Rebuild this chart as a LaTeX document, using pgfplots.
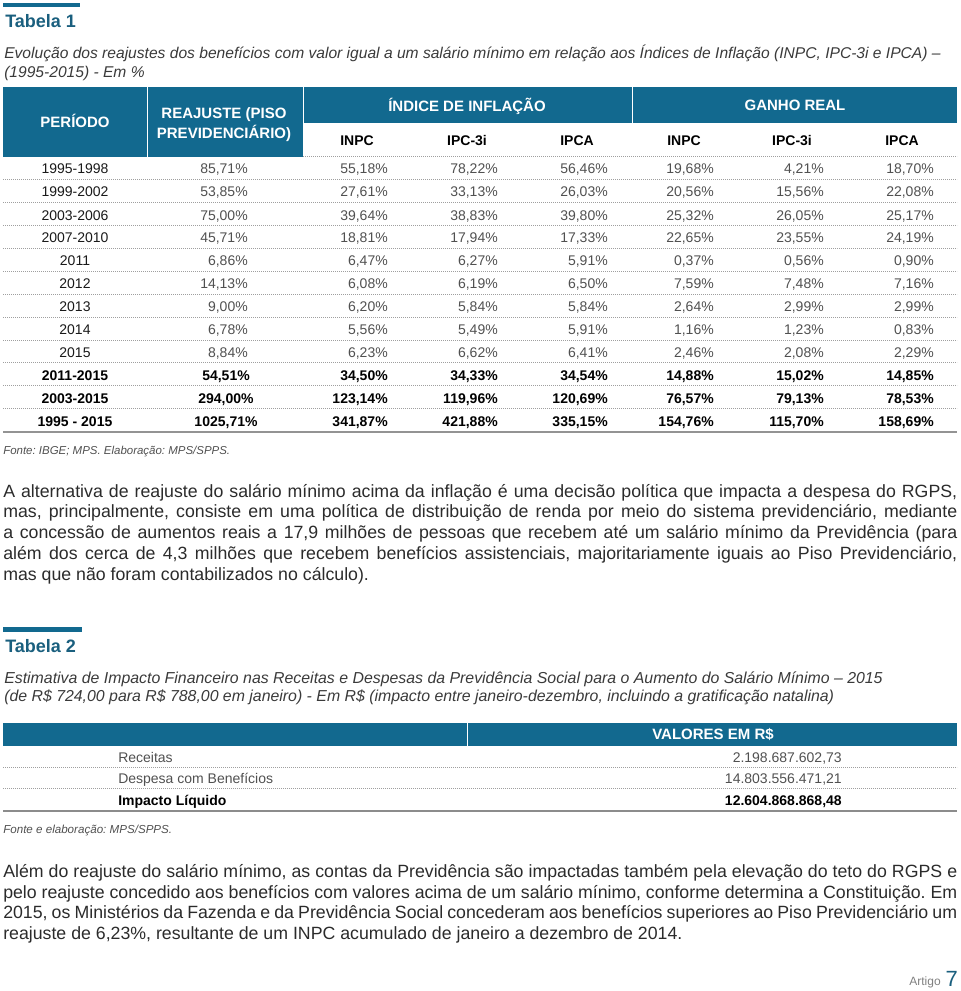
\documentclass[border=0pt]{standalone}
\usepackage{pgfplots}
\pgfplotsset{compat=1.18}
\usepackage{pgfplotstable}
\usepackage{fontspec}
\setmainfont{Liberation Sans}
\frenchspacing

\definecolor{hdr}{HTML}{12698F}
\definecolor{tealt}{HTML}{1A5F7E}
\definecolor{bodyc}{HTML}{2B2B2B}
\definecolor{valc}{HTML}{505050}
\definecolor{capc}{HTML}{3A3A3A}

% 1 px of the reference = 0.75pt
\pgfplotstableread{
y   per        reaj   inpc   ipc    ipca   ginpc  gipc   gipca
174 1995-1998  85,71  55,18  78,22  56,46  19,68  4,21   18,70
197 1999-2002  53,85  27,61  33,13  26,03  20,56  15,56  22,08
220 2003-2006  75,00  39,64  38,83  39,80  25,32  26,05  25,17
243 2007-2010  45,71  18,81  17,94  17,33  22,65  23,55  24,19
265 2011       6,86   6,47   6,27   5,91   0,37   0,56   0,90
288 2012       14,13  6,08   6,19   6,50   7,59   7,48   7,16
311 2013       9,00   6,20   5,84   5,84   2,64   2,99   2,99
334 2014       6,78   5,56   5,49   5,91   1,16   1,23   0,83
357 2015       8,84   6,23   6,62   6,41   2,46   2,08   2,29
}\tabA

\pgfplotstableread{
y   per            reaj     inpc    ipc     ipca    ginpc   gipc    gipca
380 2011-2015      54,51    34,50   34,33   34,54   14,88   15,02   14,85
403 2003-2015      294,00   123,14  119,96  120,69  76,57   79,13   78,53
426 {1995 - 2015}  1025,71  341,87  421,88  335,15  154,76  115,70  158,69
}\tabB

\pgfplotstableread{
y   item                      valor
762 Receitas                  2.198.687.602,73
783 {Despesa com Benefícios}  14.803.556.471,21
}\tabC

\pgfplotstableread{
y   item                  valor
805 {Impacto Líquido}     12.604.868.868,48
}\tabD

\pgfplotsset{
  txt/.style={draw=none, mark=none, nodes near coords={\pgfplotspointmeta},
    point meta=explicit symbolic},
  cell/.style={txt, nodes near coords={\pgfplotspointmeta\%},
    nodes near coords style={anchor=base east, inner sep=0pt,
      font=\fontsize{10.5}{12}\selectfont, text=valc}},
  cellb/.style={cell, nodes near coords style={font=\fontsize{10.5}{12}\selectfont\bfseries, text=black}},
  lab/.style={txt, nodes near coords style={anchor=base, inner sep=0pt,
      font=\fontsize{10.5}{12}\selectfont, text=black!90}},
  labb/.style={lab, nodes near coords style={font=\fontsize{10.5}{12}\selectfont\bfseries, text=black}},
  dotl/.style={gray!75, line width=0.7pt, dash pattern=on 0.6pt off 0.9pt, unbounded coords=jump},
  box/.style={fill=hdr, draw=none, mark=none},
}

\begin{document}
\begin{tikzpicture}
\begin{axis}[
  width=720pt, height=743.25pt, scale only axis,
  xmin=0, xmax=960, ymin=0, ymax=991, y dir=reverse,
  hide axis, clip=false,
]
\addplot[draw=none, mark=none] coordinates {(0,0) (960,991)};

% ---------- Tabela 1 ----------
\addplot[box] coordinates {(3,3) (80,3) (80,7.5) (3,7.5)};
\node[anchor=base west, inner sep=0pt, font=\fontsize{13.5}{16}\selectfont\bfseries, text=tealt]
  at (axis cs:5,28) {Tabela 1};
\node[anchor=base west, inner sep=0pt, font=\fontsize{11.7}{13}\selectfont\itshape, text=capc]
  at (axis cs:4,59) {Evolução dos reajustes dos benefícios com valor igual a um salário mínimo em relação aos Índices de Inflação (INPC, IPC-3i e IPCA) –};
\node[anchor=base west, inner sep=0pt, font=\fontsize{11.7}{13}\selectfont\itshape, text=capc]
  at (axis cs:4,78) {(1995-2015) - Em \%};

\addplot[box] coordinates {(3,87) (146.5,87) (146.5,157) (3,157)};
\addplot[box] coordinates {(147.5,87) (302.5,87) (302.5,157) (147.5,157)};
\addplot[box] coordinates {(303.5,87) (632,87) (632,123) (303.5,123)};
\addplot[box] coordinates {(633,87) (957,87) (957,123) (633,123)};

\begin{scope}[every node/.style={inner sep=0pt, font=\fontsize{11.25}{13}\selectfont\bfseries, text=white}]
\node[anchor=base] at (axis cs:75,128) {PERÍODO};
\node[anchor=base] at (axis cs:224,118.5) {REAJUSTE (PISO};
\node[anchor=base] at (axis cs:224,139) {PREVIDENCIÁRIO)};
\node[anchor=base] at (axis cs:467,111.5) {ÍNDICE DE INFLAÇÃO};
\node[anchor=base] at (axis cs:795,111) {GANHO REAL};
\end{scope}
\begin{scope}[every node/.style={inner sep=0pt, font=\fontsize{10.5}{12}\selectfont\bfseries, text=black}]
\node[anchor=base] at (axis cs:357,146) {INPC};
\node[anchor=base] at (axis cs:467,146) {IPC-3i};
\node[anchor=base] at (axis cs:577,146) {IPCA};
\node[anchor=base] at (axis cs:684,146) {INPC};
\node[anchor=base] at (axis cs:792,146) {IPC-3i};
\node[anchor=base] at (axis cs:902,146) {IPCA};
\end{scope}

\addplot[dotl] coordinates {(303,156) (957,156) (0,nan)
  (3,179) (957,179) (0,nan) (3,202) (957,202) (0,nan)
  (3,225) (957,225) (0,nan) (3,248) (957,248) (0,nan)
  (3,271) (957,271) (0,nan) (3,294) (957,294) (0,nan)
  (3,317) (957,317) (0,nan) (3,340) (957,340) (0,nan)
  (3,362) (957,362) (0,nan) (3,385) (957,385) (0,nan)
  (3,408) (957,408)};
\addplot[gray!85, line width=1.5pt] coordinates {(3,432) (957,432)};

\addplot[lab]  table[x expr=75,  y=y, meta=per]   {\tabA};
\addplot[cell] table[x expr=248, y=y, meta=reaj]  {\tabA};
\addplot[cell] table[x expr=388, y=y, meta=inpc]  {\tabA};
\addplot[cell] table[x expr=498, y=y, meta=ipc]   {\tabA};
\addplot[cell] table[x expr=608, y=y, meta=ipca]  {\tabA};
\addplot[cell] table[x expr=714, y=y, meta=ginpc] {\tabA};
\addplot[cell] table[x expr=824, y=y, meta=gipc]  {\tabA};
\addplot[cell] table[x expr=934, y=y, meta=gipca] {\tabA};

\addplot[labb]  table[x expr=75,  y=y, meta=per]   {\tabB};
\addplot[cellb, nodes near coords style={anchor=base}] table[x expr=226, y=y, meta=reaj] {\tabB};
\addplot[cellb] table[x expr=388, y=y, meta=inpc]  {\tabB};
\addplot[cellb] table[x expr=498, y=y, meta=ipc]   {\tabB};
\addplot[cellb] table[x expr=608, y=y, meta=ipca]  {\tabB};
\addplot[cellb] table[x expr=714, y=y, meta=ginpc] {\tabB};
\addplot[cellb] table[x expr=824, y=y, meta=gipc]  {\tabB};
\addplot[cellb] table[x expr=934, y=y, meta=gipca] {\tabB};

\node[anchor=base west, inner sep=0pt, font=\fontsize{8.6}{10}\selectfont\itshape, text=valc]
  at (axis cs:3,454) {Fonte: IBGE; MPS. Elaboração: MPS/SPPS.};

% ---------- texto ----------
\begin{scope}[every node/.style={anchor=base west, inner sep=0pt, font=\fontsize{13.3}{15}\selectfont, text=bodyc}]
\node at (axis cs:3,497) {\makebox[715.5pt][s]{A alternativa de reajuste do salário mínimo acima da inflação é uma decisão política que impacta a despesa do RGPS,}};
\node at (axis cs:3,517.5) {\makebox[715.5pt][s]{mas, principalmente, consiste em uma política de distribuição de renda por meio do sistema previdenciário, mediante}};
\node at (axis cs:3,538) {\makebox[715.5pt][s]{a concessão de aumentos reais a 17,9 milhões de pessoas que recebem até um salário mínimo da Previdência (para}};
\node at (axis cs:3,559) {\makebox[715.5pt][s]{além dos cerca de 4,3 milhões que recebem benefícios assistenciais, majoritariamente iguais ao Piso Previdenciário,}};
\node at (axis cs:3,580) {mas que não foram contabilizados no cálculo).};
\end{scope}

% ---------- Tabela 2 ----------
\addplot[box] coordinates {(3,627) (82,627) (82,632) (3,632)};
\node[anchor=base west, inner sep=0pt, font=\fontsize{13.5}{16}\selectfont\bfseries, text=tealt]
  at (axis cs:5,652) {Tabela 2};
\node[anchor=base west, inner sep=0pt, font=\fontsize{11.9}{13}\selectfont\itshape, text=capc]
  at (axis cs:4,683) {Estimativa de Impacto Financeiro nas Receitas e Despesas da Previdência Social para o Aumento do Salário Mínimo – 2015};
\node[anchor=base west, inner sep=0pt, font=\fontsize{11.9}{13}\selectfont\itshape, text=capc]
  at (axis cs:4,701) {(de R\$ 724,00 para R\$ 788,00 em janeiro) - Em R\$ (impacto entre janeiro-dezembro, incluindo a gratificação natalina)};

\addplot[box] coordinates {(3,723) (466.5,723) (466.5,746) (3,746)};
\addplot[box] coordinates {(467.5,723) (957,723) (957,746) (467.5,746)};
\node[anchor=base, inner sep=0pt, font=\fontsize{11.25}{13}\selectfont\bfseries, text=white]
  at (axis cs:713,739) {VALORES EM R\$};

\addplot[dotl] coordinates {(3,767) (957,767) (0,nan) (3,788) (957,788)};
\addplot[gray!90, line width=0.8pt] coordinates {(3,811) (957,811)};

\addplot[txt, nodes near coords style={anchor=base west, inner sep=0pt,
    font=\fontsize{10.5}{12}\selectfont, text=valc}] table[x expr=118, y=y, meta=item] {\tabC};
\addplot[txt, nodes near coords style={anchor=base east, inner sep=0pt,
    font=\fontsize{10.5}{12}\selectfont, text=valc}] table[x expr=842, y=y, meta=valor] {\tabC};
\addplot[txt, nodes near coords style={anchor=base west, inner sep=0pt,
    font=\fontsize{10.5}{12}\selectfont\bfseries, text=black}] table[x expr=118, y=y, meta=item] {\tabD};
\addplot[txt, nodes near coords style={anchor=base east, inner sep=0pt,
    font=\fontsize{10.5}{12}\selectfont\bfseries, text=black}] table[x expr=842, y=y, meta=valor] {\tabD};

\node[anchor=base west, inner sep=0pt, font=\fontsize{8.7}{10}\selectfont\itshape, text=valc]
  at (axis cs:3,833) {Fonte e elaboração: MPS/SPPS.};

\begin{scope}[every node/.style={anchor=base west, inner sep=0pt, font=\fontsize{13.3}{15}\selectfont, text=bodyc}]
\node at (axis cs:3,877) {\makebox[715.5pt][s]{Além do reajuste do salário mínimo, as contas da Previdência são impactadas também pela elevação do teto do RGPS e}};
\node at (axis cs:3,898) {\makebox[715.5pt][s]{pelo reajuste concedido aos benefícios com valores acima de um salário mínimo, conforme determina a Constituição. Em}};
\node at (axis cs:3,918) {\makebox[715.5pt][s]{2015, os Ministérios da Fazenda e da Previdência Social concederam aos benefícios superiores ao Piso Previdenciário um}};
\node at (axis cs:3,939) {reajuste de 6,23\%, resultante de um INPC acumulado de janeiro a dezembro de 2014.};
\end{scope}

\node[anchor=base east, inner sep=0pt, font=\fontsize{9}{11}\selectfont, text=gray] at (axis cs:941,985) {Artigo};
\node[anchor=base east, inner sep=0pt, font=\fontsize{16.5}{18}\selectfont, text=tealt] at (axis cs:958,986) {7};
\end{axis}
\end{tikzpicture}
\end{document}
